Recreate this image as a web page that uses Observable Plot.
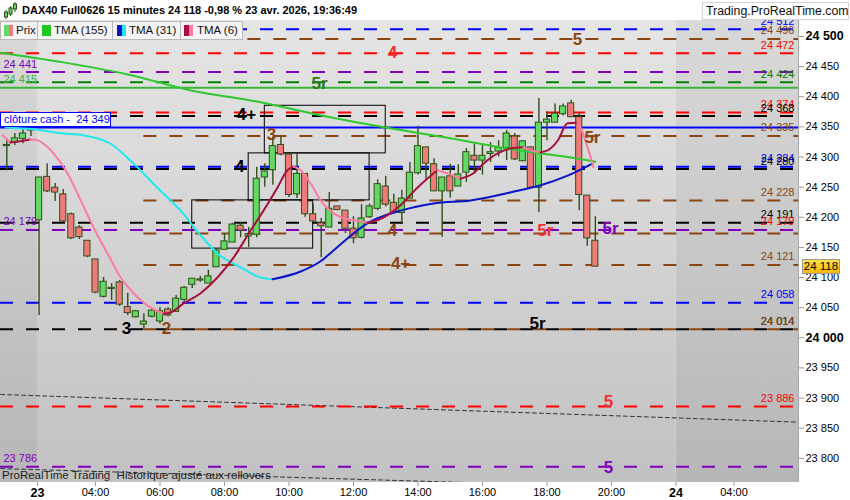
<!DOCTYPE html>
<html>
<head>
<meta charset="utf-8">
<script src="https://cdn.jsdelivr.net/npm/d3@7"></script>
<script src="https://cdn.jsdelivr.net/npm/@observablehq/plot@0.6"></script>
<style>
  html,body{margin:0;padding:0;background:#fff;}
  #wrap{position:relative;width:850px;height:500px;overflow:hidden;font-family:"Liberation Sans",Arial,sans-serif;}
  #wrap svg{position:absolute;left:0;top:0;}
  .ov{position:absolute;box-sizing:border-box;white-space:nowrap;}
  #header{left:0;top:0;width:850px;height:20px;background:#fff;}
  #title{left:22px;top:4px;font-weight:bold;font-size:11px;color:#000;}
  #site{left:702px;top:2px;width:147px;height:18px;border:1px solid #d4d4d4;background:#fff;font-size:12.3px;line-height:16px;padding-left:3px;color:#111;}
  .leg{top:21px;height:19px;border:1px solid #b8b8b8;background:#f4f4f4;font-size:11.5px;line-height:17px;color:#111;}
  .sw{position:absolute;top:3px;height:11px;}
  #cash{left:0;width:111px;height:15px;border:1px solid #0000ff;background:#fff;color:#0000ff;font-size:11px;line-height:13px;padding-left:3px;}
  #price{left:802px;width:38px;height:15px;border:1px solid #9a9a9a;background:linear-gradient(#ffe34d,#f5b800);font-size:11.5px;line-height:13px;text-align:center;color:#000;}
  #foot{left:2px;top:469px;font-size:11.5px;color:#222;}
</style>
</head>
<body>
<div id="wrap"></div>
<script>
// ---------- axis extents (hours on a continuous session axis / price points) ----------
const xMin = 1.054, xMax = 25.8;
const yMin = 23759.9, yMax = 24526.5;

const xTicks  = [2.2, 4, 6, 8, 10, 12, 14, 16, 18, 20, 22, 23.8];
const xLabels = ["23","04:00","06:00","08:00","10:00","12:00","14:00","16:00","18:00","20:00","24","04:00"];
const yTicks  = [23800,23850,23900,23950,24000,24050,24100,24150,24200,24250,24300,24350,24400,24450,24500];
const boldLabels = ["23","24","24 500","24 000"];

// ---------- 15-minute candles ----------
const firstCandleHour = 1.25, candleHours = 0.25;
const opens  = [24318,24324,24330,24344,24195,24267,24249,24238,24205,24183,24161,24130,24068,24081,24092,24051,24034,24022,24035,24027,24047,24043,24063,24088,24095,24090,24117,24146,24158,24186,24168,24171,24266,24278,24320,24304,24238,24272,24205,24190,24183,24218,24211,24181,24166,24200,24214,24251,24224,24207,24231,24273,24316,24288,24243,24268,24251,24274,24302,24294,24305,24309,24315,24334,24293,24316,24249,24357,24357,24371,24389,24366,24236,24161];
const highs  = [24330,24339,24347,24346,24266,24289,24256,24246,24207,24186,24161,24130,24100,24090,24095,24074,24045,24040,24047,24050,24050,24070,24085,24098,24102,24112,24147,24173,24190,24191,24183,24283,24289,24333,24333,24306,24306,24272,24222,24198,24241,24218,24211,24201,24221,24222,24262,24268,24238,24245,24291,24351,24316,24297,24266,24288,24287,24314,24322,24319,24324,24327,24344,24339,24327,24316,24397,24375,24388,24388,24394,24372,24236,24201];
const lows   = [24277,24319,24322,24334,24037,24241,24226,24191,24163,24163,24133,24073,24066,24062,24052,24037,24033,24014,24033,24023,24035,24043,24059,24082,24092,24090,24117,24146,24158,24166,24150,24166,24250,24253,24302,24233,24231,24200,24190,24133,24183,24211,24173,24156,24164,24198,24211,24217,24206,24189,24231,24270,24262,24243,24167,24232,24251,24258,24272,24270,24291,24300,24294,24294,24292,24249,24208,24327,24357,24368,24366,24211,24152,24118];
const closes = [24320,24331,24339,24345,24266,24243,24241,24193,24165,24167,24135,24075,24093,24083,24055,24041,24044,24027,24045,24044,24037,24065,24083,24098,24097,24102,24145,24160,24188,24178,24172,24264,24276,24318,24304,24237,24272,24205,24193,24185,24214,24212,24181,24165,24198,24218,24255,24221,24207,24231,24274,24318,24289,24243,24266,24243,24271,24308,24294,24302,24308,24315,24339,24296,24326,24249,24357,24362,24372,24384,24366,24237,24165,24118];

// ---------- moving averages ----------
const tma155Hours  = [1.06, 3, 5, 7, 9, 11, 13, 15, 17, 19, 19.5];
const tma155Values = [24473,24457,24437,24410,24392,24369,24349,24331,24312,24297,24292];

const tma31Hours  = [1.21,2.08,3.01,3.63,4.47,5.18,5.92,6.64,7.26,7.78,8.50,9.12,9.49,10.36,10.98,11.38,12.43,13.46,14.48,15.63,17.09,17.80,18.64,19.41];
const tma31Values = [24349,24346,24339,24336,24322,24289,24249,24211,24170,24140,24117,24100,24097,24110,24127,24145,24190,24211,24223,24228,24244,24253,24269,24289];

const tma6Hours  = [1.12,1.36,1.67,1.98,2.20,2.39,2.70,3.13,3.54,3.94,4.37,4.78,5.18,5.71,6.11,6.33,6.73,7.26,7.78,8.28,8.81,9.21,9.64,9.95,10.14,10.36,10.67,10.98,11.19,11.60,12.00,12.43,12.74,13.46,13.98,14.60,14.91,15.32,15.72,16.03,16.47,16.87,17.27,17.49,17.80,18.02,18.33,18.64,18.95,19.04,19.26,19.44];
const tma6Values = [24336,24324,24326,24329,24328,24322,24306,24273,24228,24183,24140,24100,24074,24050,24040,24042,24057,24074,24100,24133,24178,24211,24249,24278,24284,24278,24256,24228,24215,24200,24195,24191,24195,24220,24249,24278,24273,24264,24273,24289,24306,24314,24316,24311,24308,24311,24327,24356,24357,24349,24316,24283];

// ---------- horizontal levels ----------
const levelPrices = [24512,24496,24472,24441,24424,24374,24368,24335,24284,24280,24228,24191,24179,24179,24173,24121,24058,24014,24014,23886,23786];
const levelColors = ["blue","brown","red","purple","green","red","black","brown","blue","black","brown","black","red","purple","brown","brown","blue","black","brown","red","purple"];
const levelSides  = ["R","R","R","L","R","R","R","R","R","R","R","R","R","L","-","R","R","R","R","R","L"];
const brownLevelsFromHour = 5.5;

const solidPrices = [24415, 24349];
const solidColors = ["#3cb43c", "#0000ff"];
const solidSides  = ["L", "-"];
const cashClose = 24349;

// ---------- sloping dotted trend lines ----------
const trend1Hours = [1.06, 25.8], trend1Values = [23906, 23860];
const trend2Hours = [1.06, 16.0], trend2Values = [23783, 23759];

// ---------- boxes ----------
const boxStart  = [9.25, 8.75, 7.0];
const boxEnd    = [13.0, 12.5, 10.75];
const boxTop    = [24385, 24306, 24228];
const boxBottom = [24306, 24228, 24148];

// ---------- annotation labels ----------
const annoText  = ["4","5","5r","4+","3","4","5r","5r","5r","4","4+","3","2","5r","5","5"];
const annoColor = ["red","brown","green","black","brown","black","brown","red","purple","brown","brown","black","brown","black","red","purple"];
const annoHour  = [13.21,18.95,10.95,8.68,9.46,8.47,19.41,17.95,19.97,13.21,13.46,4.96,6.2,17.71,19.91,19.91];
const annoPrice = [24473,24495,24422,24370,24337,24284,24332,24178,24181,24178,24123,24015,24015,24024,23895,23785];

// ---------- sessions (background shading) ----------
const sessionStart = [xMin, 2.2, 22];
const sessionEnd   = [2.2, 22, xMax];
const sessionKind  = ["off","day","off"];

// ---------- styling ----------
const palette = {blue:"#0000ff", brown:"#8b4513", red:"#ff0000", purple:"#8000c0", green:"#008000", black:"#000000"};
const annoPalette = {red:"#ee3030", brown:"#8b4513", green:"#2f7a1f", black:"#000000", purple:"#8000c0"};
const upFill = "#64d864", downFill = "#f07a7a", candleLine = "#2d5016";

const fmt = d => { const s = String(Math.round(d)); return s.slice(0, s.length - 3) + " " + s.slice(-3); };

const candles = opens.map((o, i) => ({t: firstCandleHour + i * candleHours, o, h: highs[i], l: lows[i], c: closes[i]}));
const levels = levelPrices.map((p, i) => ({
  price: p, color: palette[levelColors[i]], side: levelSides[i],
  start: levelColors[i] === "brown" ? brownLevelsFromHour : xMin
}));
const solids = solidPrices.map((p, i) => ({price: p, color: solidColors[i], side: solidSides[i]}));
const boxes = boxStart.map((s, i) => ({x1: s, x2: boxEnd[i], y1: boxBottom[i], y2: boxTop[i]}));
const annos = annoText.map((t, i) => ({text: t, color: annoPalette[annoColor[i]], t: annoHour[i], p: annoPrice[i]}));
const sessions = sessionStart.map((s, i) => ({x1: s, x2: sessionEnd[i], kind: sessionKind[i]}));
const pts = (h, v) => h.map((t, i) => ({t, v: v[i]}));

function runs(hours, values, upColor, downColor) {
  const out = [];
  let run = 0, prevDir = null;
  for (let i = 0; i < hours.length - 1; i++) {
    const dir = values[i + 1] >= values[i] ? "up" : "down";
    const color = dir === "up" ? upColor : downColor;
    if (dir !== prevDir) { run++; prevDir = dir; out.push({t: hours[i], v: values[i], run, color}); }
    out.push({t: hours[i + 1], v: values[i + 1], run, color});
  }
  return out;
}

const leftLabels = [...levels.filter(d => d.side === "L"), ...solids.filter(d => d.side === "L")];
const rightLabels = levels.filter(d => d.side === "R");

const plot = Plot.plot({
  width: 850, height: 500,
  marginTop: 20, marginBottom: 18, marginLeft: 0, marginRight: 52,
  x: {type: "linear", domain: [xMin, xMax]},
  y: {type: "linear", domain: [yMin, yMax]},
  color: {type: "identity"},
  style: {fontFamily: '"Liberation Sans", Arial, sans-serif', fontSize: "11px", background: "#fff", overflow: "visible", color: "#000"},
  marks: [
    Plot.rect(sessions.filter(d => d.kind === "day"), {x1: "x1", x2: "x2", fill: "url(#bgDay)"}),
    Plot.rect(sessions.filter(d => d.kind === "off"), {x1: "x1", x2: "x2", fill: "url(#bgOff)"}),
    Plot.line(pts(trend1Hours, trend1Values), {x: "t", y: "v", stroke: "#333", strokeWidth: 1, strokeDasharray: "4,3", clip: "frame"}),
    Plot.line(pts(trend2Hours, trend2Values), {x: "t", y: "v", stroke: "#333", strokeWidth: 1, strokeDasharray: "4,3", clip: "frame"}),
    Plot.ruleY(levels, {y: "price", x1: "start", x2: () => xMax, stroke: "color", strokeWidth: 2, strokeDasharray: "13,13"}),
    Plot.ruleY(solids, {y: "price", x1: () => xMin, x2: () => xMax, stroke: "color", strokeWidth: 2}),
    Plot.rect(boxes, {x1: "x1", x2: "x2", y1: "y1", y2: "y2", fill: "none", stroke: "#000", strokeWidth: 1}),
    Plot.ruleX(candles, {x: "t", y1: "l", y2: "h", stroke: candleLine, strokeWidth: 1.4}),
    Plot.rect(candles, {
      x1: d => d.t - 0.095, x2: d => d.t + 0.095,
      y1: d => Math.min(d.o, d.c), y2: d => Math.max(d.o, d.c),
      fill: d => d.c >= d.o ? upFill : downFill, stroke: candleLine, strokeWidth: 1
    }),
    Plot.line(pts(tma155Hours, tma155Values), {x: "t", y: "v", stroke: "#2ec82e", strokeWidth: 2, curve: "monotone-x", clip: "frame"}),
    Plot.line(runs(tma31Hours, tma31Values, "#0a14c8", "#20e8f0"), {x: "t", y: "v", z: "run", stroke: "color", strokeWidth: 2, curve: "monotone-x", clip: "frame"}),
    Plot.line(runs(tma6Hours, tma6Values, "#a8103e", "#ff7aa2"), {x: "t", y: "v", z: "run", stroke: "color", strokeWidth: 2, curve: "monotone-x", clip: "frame"}),
    Plot.text(rightLabels, {x: () => xMax, y: "price", text: d => fmt(d.price), fill: "color", textAnchor: "end", dx: -4, dy: -8, fontSize: 11, clip: "frame"}),
    Plot.text(leftLabels, {x: () => xMin, y: "price", text: d => fmt(d.price), fill: "color", textAnchor: "start", dx: 3, dy: -8, fontSize: 11, clip: "frame"}),
    Plot.text(annos, {x: "t", y: "p", text: "text", fill: "color", fontSize: 17, fontWeight: "bold"}),
    Plot.ruleX([xMax], {stroke: "#a8a8a8", strokeWidth: 1}),
    Plot.axisX({ticks: xTicks, tickFormat: d => xLabels[xTicks.indexOf(d)], tickSize: 4, tickPadding: 2, stroke: "#999", fontSize: 11}),
    Plot.axisY({anchor: "right", ticks: yTicks, tickFormat: fmt, tickSize: 5, tickPadding: 2, stroke: "#999", fontSize: 11})
  ]
});

// gradients for the background
const svg = d3.select(plot);
const defs = svg.insert("defs", ":first-child");
function grad(id, top, bottom) {
  const g = defs.append("linearGradient").attr("id", id).attr("x1", 0).attr("y1", 0).attr("x2", 0).attr("y2", 1);
  g.append("stop").attr("offset", "0%").attr("stop-color", top);
  g.append("stop").attr("offset", "100%").attr("stop-color", bottom);
}
grad("bgDay", "#e5e5e5", "#c1c1c1");
grad("bgOff", "#d9d9d9", "#b6b6b6");

svg.selectAll('g[aria-label="x-axis tick label"] text, g[aria-label="y-axis tick label"] text').each(function () {
  if (boldLabels.includes(this.textContent)) d3.select(this).attr("font-weight", "bold").attr("font-size", 12.5);
});
svg.selectAll('g[aria-label="x-axis tick label"] text, g[aria-label="y-axis tick label"] text').attr("fill", "#000");

const wrap = document.getElementById("wrap");
wrap.appendChild(plot);

// ---------- overlays (header, legend, info boxes) ----------
const yScale = plot.scale("y");
const cashY = yScale.apply(cashClose);
const lastClose = closes[closes.length - 1];
const priceY = yScale.apply(lastClose);

function ov(id, cls, html, style) {
  const d = document.createElement("div");
  if (id) d.id = id;
  d.className = "ov" + (cls ? " " + cls : "");
  d.innerHTML = html;
  if (style) Object.assign(d.style, style);
  wrap.appendChild(d);
  return d;
}
ov("header", "", "");
ov("", "", '<svg width="16" height="18"><g stroke="#2d5016" stroke-width="1"><line x1="5" y1="9" x2="5" y2="18"/><rect x="3.5" y="11" width="3" height="5" fill="#64d864"/><line x1="9.5" y1="5" x2="9.5" y2="15"/><rect x="8" y="7" width="3" height="6" fill="#64d864"/><line x1="14" y1="1" x2="14" y2="11"/><rect x="12.5" y="3" width="3" height="5" fill="#64d864"/></g></svg>', {left: "1px", top: "1px"});
ov("title", "", "DAX40 Full0626 15 minutes " + fmt(lastClose) + " -0,98 % 23 avr. 2026, 19:36:49");
ov("site", "", "Trading.ProRealTime.com");

ov("", "leg", '<span class="sw" style="left:3px;width:4.5px;background:#64d864"></span><span class="sw" style="left:7.5px;width:4.5px;background:#f07a7a"></span><span style="position:absolute;left:15px">Prix</span>', {left: "0px", width: "38px"});
ov("", "leg", '<span class="sw" style="left:4px;width:9px;background:#1ec81e"></span><span style="position:absolute;left:16px">TMA (155)</span>', {left: "37px", width: "76px"});
ov("", "leg", '<span class="sw" style="left:4px;width:4.5px;background:#0a14c8"></span><span class="sw" style="left:8.5px;width:4.5px;background:#20e8f0"></span><span style="position:absolute;left:16px">TMA (31)</span>', {left: "112px", width: "69px"});
ov("", "leg", '<span class="sw" style="left:3px;width:4.5px;background:#a8103e"></span><span class="sw" style="left:7.5px;width:4.5px;background:#ff7aa2"></span><span style="position:absolute;left:16px">TMA (6)</span>', {left: "180px", width: "63px"});

ov("cash", "", "clôture cash -&nbsp; " + fmt(cashClose), {top: (cashY - 14.5) + "px"});
ov("price", "", fmt(lastClose), {top: (priceY - 7.5) + "px"});
ov("foot", "", "ProRealTime Trading&nbsp; Historique ajusté aux rollovers");
</script>
</body>
</html>
